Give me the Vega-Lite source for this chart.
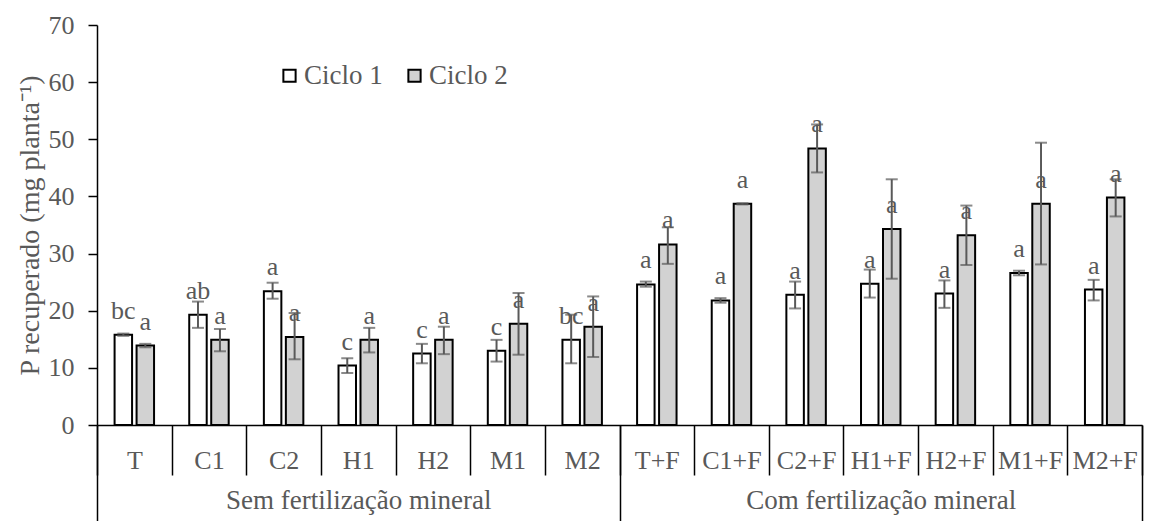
{
  "$schema": "https://vega.github.io/schema/vega-lite/v6.json",
  "width": 1045,
  "height": 400,
  "autosize": {"type": "none"},
  "padding": {"left": 97, "top": 25, "right": 8, "bottom": 96},
  "background": "white",
  "config": {
    "view": {"stroke": null},
    "font": "Liberation Serif",
    "axis": {"labelFont": "Liberation Serif", "titleFont": "Liberation Serif", "grid": false}
  },
  "data": {
    "values": [
      {"cat": "T", "grupo": "Sem fertilização mineral", "ciclo": "Ciclo 1", "v": 15.8, "lo": 15.6, "hi": 16.0, "letra": "bc"},
      {"cat": "T", "grupo": "Sem fertilização mineral", "ciclo": "Ciclo 2", "v": 13.9, "lo": 13.6, "hi": 14.2, "letra": "a"},
      {"cat": "C1", "grupo": "Sem fertilização mineral", "ciclo": "Ciclo 1", "v": 19.3, "lo": 17.0, "hi": 21.6, "letra": "ab"},
      {"cat": "C1", "grupo": "Sem fertilização mineral", "ciclo": "Ciclo 2", "v": 14.9, "lo": 12.9, "hi": 16.8, "letra": "a"},
      {"cat": "C2", "grupo": "Sem fertilização mineral", "ciclo": "Ciclo 1", "v": 23.4, "lo": 22.1, "hi": 24.9, "letra": "a"},
      {"cat": "C2", "grupo": "Sem fertilização mineral", "ciclo": "Ciclo 2", "v": 15.4, "lo": 11.5, "hi": 19.6, "letra": "a"},
      {"cat": "H1", "grupo": "Sem fertilização mineral", "ciclo": "Ciclo 1", "v": 10.4, "lo": 9.1, "hi": 11.7, "letra": "c"},
      {"cat": "H1", "grupo": "Sem fertilização mineral", "ciclo": "Ciclo 2", "v": 14.9, "lo": 12.7, "hi": 17.0, "letra": "a"},
      {"cat": "H2", "grupo": "Sem fertilização mineral", "ciclo": "Ciclo 1", "v": 12.5, "lo": 10.8, "hi": 14.2, "letra": "c"},
      {"cat": "H2", "grupo": "Sem fertilização mineral", "ciclo": "Ciclo 2", "v": 14.9, "lo": 12.4, "hi": 17.2, "letra": "a"},
      {"cat": "M1", "grupo": "Sem fertilização mineral", "ciclo": "Ciclo 1", "v": 13.0, "lo": 11.1, "hi": 14.9, "letra": "c"},
      {"cat": "M1", "grupo": "Sem fertilização mineral", "ciclo": "Ciclo 2", "v": 17.7, "lo": 12.3, "hi": 23.1, "letra": "a"},
      {"cat": "M2", "grupo": "Sem fertilização mineral", "ciclo": "Ciclo 1", "v": 14.9, "lo": 10.8, "hi": 19.3, "letra": "bc"},
      {"cat": "M2", "grupo": "Sem fertilização mineral", "ciclo": "Ciclo 2", "v": 17.2, "lo": 11.9, "hi": 22.5, "letra": "a"},
      {"cat": "T+F", "grupo": "Com fertilização mineral", "ciclo": "Ciclo 1", "v": 24.6, "lo": 24.2, "hi": 25.1, "letra": "a"},
      {"cat": "T+F", "grupo": "Com fertilização mineral", "ciclo": "Ciclo 2", "v": 31.6, "lo": 28.2, "hi": 34.6, "letra": "a"},
      {"cat": "C1+F", "grupo": "Com fertilização mineral", "ciclo": "Ciclo 1", "v": 21.8, "lo": 21.4, "hi": 22.2, "letra": "a"},
      {"cat": "C1+F", "grupo": "Com fertilização mineral", "ciclo": "Ciclo 2", "v": 38.7, "lo": 38.6, "hi": 38.8, "letra": "a"},
      {"cat": "C2+F", "grupo": "Com fertilização mineral", "ciclo": "Ciclo 1", "v": 22.8, "lo": 20.4, "hi": 25.1, "letra": "a"},
      {"cat": "C2+F", "grupo": "Com fertilização mineral", "ciclo": "Ciclo 2", "v": 48.4, "lo": 44.2, "hi": 52.6, "letra": "a"},
      {"cat": "H1+F", "grupo": "Com fertilização mineral", "ciclo": "Ciclo 1", "v": 24.7, "lo": 22.3, "hi": 27.2, "letra": "a"},
      {"cat": "H1+F", "grupo": "Com fertilização mineral", "ciclo": "Ciclo 2", "v": 34.3, "lo": 25.6, "hi": 43.0, "letra": "a"},
      {"cat": "H2+F", "grupo": "Com fertilização mineral", "ciclo": "Ciclo 1", "v": 23.0, "lo": 20.5, "hi": 25.3, "letra": "a"},
      {"cat": "H2+F", "grupo": "Com fertilização mineral", "ciclo": "Ciclo 2", "v": 33.2, "lo": 28.0, "hi": 38.4, "letra": "a"},
      {"cat": "M1+F", "grupo": "Com fertilização mineral", "ciclo": "Ciclo 1", "v": 26.6, "lo": 26.2, "hi": 27.0, "letra": "a"},
      {"cat": "M1+F", "grupo": "Com fertilização mineral", "ciclo": "Ciclo 2", "v": 38.7, "lo": 28.1, "hi": 49.4, "letra": "a"},
      {"cat": "M2+F", "grupo": "Com fertilização mineral", "ciclo": "Ciclo 1", "v": 23.7, "lo": 21.8, "hi": 25.4, "letra": "a"},
      {"cat": "M2+F", "grupo": "Com fertilização mineral", "ciclo": "Ciclo 2", "v": 39.8, "lo": 36.5, "hi": 43.0, "letra": "a"}
    ]
  },
  "resolve": {"scale": {"x": "independent"}, "axis": {"x": "independent"}},
  "layer": [
    {
      "mark": {"type": "tick", "opacity": 0},
      "encoding": {
        "x": {
          "field": "grupo", "type": "nominal",
          "sort": ["Sem fertilização mineral", "Com fertilização mineral"],
          "scale": {"type": "band", "paddingInner": 0, "paddingOuter": 0},
          "axis": {
            "orient": "bottom", "title": null, "domain": false,
            "tickBand": "extent", "tickSize": 96, "tickColor": "black", "tickWidth": 1.5,
            "labelPadding": -21, "labelBaseline": "middle", "labelAngle": 0, "labelLimit": 0,
            "labelFontSize": 27, "labelColor": "#595959"
          }
        }
      }
    },
    {
      "encoding": {
        "x": {
          "field": "cat", "type": "nominal",
          "sort": ["T", "C1", "C2", "H1", "H2", "M1", "M2", "T+F", "C1+F", "C2+F", "H1+F", "H2+F", "M1+F", "M2+F"],
          "scale": {"type": "band", "paddingInner": 0, "paddingOuter": 0},
          "axis": {
            "orient": "bottom", "title": null,
            "domainColor": "black", "domainWidth": 1.5,
            "tickBand": "extent", "tickSize": 50, "tickColor": "black", "tickWidth": 1.5,
            "labelPadding": -15, "labelBaseline": "middle", "labelAngle": 0, "labelLimit": 0,
            "labelFontSize": 26, "labelColor": "#595959"
          }
        },
        "xOffset": {
          "field": "ciclo", "type": "nominal",
          "scale": {"paddingInner": 0.205, "paddingOuter": 0.8}
        }
      },
      "layer": [
        {
          "mark": {"type": "bar", "stroke": "black", "strokeWidth": 2},
          "encoding": {
            "y": {
              "field": "v", "type": "quantitative",
              "scale": {"domain": [0, 70], "nice": false},
              "title": "P recuperado (mg planta⁻¹)",
              "axis": {
                "values": [0, 10, 20, 30, 40, 50, 60, 70],
                "domainColor": "black", "domainWidth": 1.5,
                "tickColor": "black", "tickWidth": 1.5, "tickSize": 9,
                "labelFontSize": 26, "labelColor": "#595959", "labelPadding": 14,
                "titleFontSize": 28, "titleColor": "#595959", "titleFontWeight": "normal",
                "titlePadding": 4
              }
            },
            "fill": {
              "field": "ciclo", "type": "nominal",
              "scale": {"domain": ["Ciclo 1", "Ciclo 2"], "range": ["#ffffff", "#d2d2d2"]},
              "legend": {
                "orient": "none", "legendX": 179, "legendY": 37,
                "direction": "horizontal", "title": null,
                "symbolType": "square", "symbolSize": 150,
                "symbolStrokeColor": "black", "symbolStrokeWidth": 2,
                "labelFontSize": 27, "labelColor": "#595959", "labelFont": "Liberation Serif",
                "labelOffset": 1, "columnPadding": 18
              }
            }
          }
        },
        {
          "mark": {"type": "rule", "color": "#595959", "strokeWidth": 2},
          "encoding": {
            "y": {"field": "lo", "type": "quantitative", "title": "P recuperado (mg planta⁻¹)"},
            "y2": {"field": "hi"}
          }
        },
        {
          "mark": {"type": "tick", "color": "#595959", "thickness": 2, "size": 12, "orient": "horizontal"},
          "encoding": {
            "y": {"field": "hi", "type": "quantitative", "title": "P recuperado (mg planta⁻¹)"}
          }
        },
        {
          "mark": {"type": "tick", "color": "#595959", "thickness": 2, "size": 12, "orient": "horizontal"},
          "encoding": {
            "y": {"field": "lo", "type": "quantitative", "title": "P recuperado (mg planta⁻¹)"}
          }
        },
        {
          "mark": {"type": "text", "font": "Liberation Serif", "fontSize": 26, "color": "#595959", "baseline": "middle", "dy": -24},
          "encoding": {
            "y": {"field": "v", "type": "quantitative", "title": "P recuperado (mg planta⁻¹)"},
            "text": {"field": "letra"}
          }
        }
      ]
    }
  ]
}
